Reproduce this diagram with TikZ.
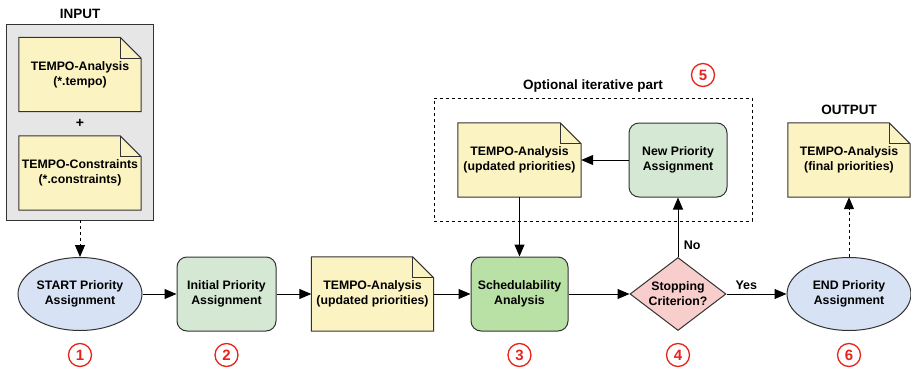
\documentclass[tikz,border=0pt]{standalone}
\usepackage{fontspec}
\setmainfont{Liberation Sans}
\usetikzlibrary{arrows.meta,shapes.geometric,backgrounds}
\definecolor{docyellow}{HTML}{FCF3C2}
\definecolor{lightgreen}{HTML}{D5E8D4}
\definecolor{darkgreen}{HTML}{B9E0A5}
\definecolor{lightblue}{HTML}{D7E3F5}
\definecolor{lightred}{HTML}{F8CECC}
\definecolor{boxgray}{HTML}{E6E6E6}
\definecolor{numred}{HTML}{E8231B}
\definecolor{linegray}{HTML}{333333}
\newcommand\docshape[1]{%
  \begin{pgfonlayer}{background}
  \filldraw[fill=docyellow,draw=linegray,line width=1pt]
    (#1.north west) -- ([xshift=-21pt]#1.north east) -- ([yshift=-21pt]#1.north east)
    -- (#1.south east) -- (#1.south west) -- cycle;
  \draw[linegray,line width=1pt] ([xshift=-21pt]#1.north east) |- ([yshift=-21pt]#1.north east);
  \end{pgfonlayer}}
\tikzset{
  base/.style={align=center,inner sep=0pt,text=black},
  doc/.style={base,rectangle,minimum width=122pt,minimum height=74pt},
  procbox/.style={base,rectangle,rounded corners=10pt,draw=linegray,line width=1pt,
    minimum width=99pt,minimum height=74pt},
  oval/.style={base,ellipse,draw=linegray,line width=1pt,fill=lightblue,
    minimum width=124pt,minimum height=73pt},
  decide/.style={base,diamond,aspect=1.3,draw=linegray,line width=1pt,fill=lightred,
    minimum width=96pt,minimum height=73pt},
  title/.style={font=\bfseries\fontsize{13.5}{15}\selectfont},
  num/.style={circle,draw=numred,line width=1.3pt,text=numred,minimum size=23pt,inner sep=0pt,
    font=\bfseries\fontsize{15}{16}\selectfont},
  arr/.style={-{Triangle[length=12pt,width=10pt]},line width=1pt,draw=black},
  darr/.style={arr,dash pattern=on 3pt off 3pt},
  lbl/.style={font=\bfseries\fontsize{12.5}{14}\selectfont},
}
\begin{document}
\begin{tikzpicture}[x=1pt,y=-1pt,font=\bfseries\fontsize{12.3}{15}\selectfont]
\useasboundingbox (0,0) rectangle (911,370);
% INPUT group
\node[title] (inlbl) at (80,14) {INPUT};
\node[minimum width=146pt,minimum height=195pt,inner sep=0pt] (inbox) at (80,122.5) {};
\begin{pgfonlayer}{background}
\filldraw[fill=boxgray,draw=linegray,line width=1pt] (inbox.north west) rectangle (inbox.south east);
\end{pgfonlayer}
\node[doc] (docA) at (80,74.5) {TEMPO-Analysis\\(*.tempo)};
\docshape{docA}
\node[font=\bfseries\fontsize{14}{15}\selectfont] (plus) at (80,123) {+};
\node[doc] (docB) at (80,173) {TEMPO-Constraints\\(*.constraints)};
\docshape{docB}
% main row
\node[oval] (start) at (80,294) {START Priority\\Assignment};
\node[procbox,fill=lightgreen] (init) at (226.5,294) {Initial Priority\\Assignment};
\node[doc] (docU) at (372.5,294) {TEMPO-Analysis\\(updated priorities)};
\docshape{docU}
\node[procbox,fill=darkgreen,minimum width=97pt] (sched) at (519.5,294) {Schedulability\\Analysis};
\node[decide] (stop) at (678,294) {Stopping\\Criterion?};
\node[oval] (endp) at (849,294) {END Priority\\Assignment};
% optional part
\node[minimum width=318pt,minimum height=123pt,inner sep=0pt,draw=black,line width=1pt,dash pattern=on 3pt off 3pt] (opt) at (593,159.5) {};
\node[title] (optlbl) at (593,86) {Optional iterative part};
\node[doc,minimum width=123pt] (docI) at (519.5,160) {TEMPO-Analysis\\(updated priorities)};
\docshape{docI}
\node[procbox,fill=lightgreen,minimum width=98pt] (newp) at (678,160) {New Priority\\Assignment};
% output
\node[title] (outlbl) at (849,110) {OUTPUT};
\node[doc] (docF) at (849,160) {TEMPO-Analysis\\(final priorities)};
\docshape{docF}
% numbers
\node[num] (n1) at (80,355) {1};
\node[num] (n2) at (226.5,355) {2};
\node[num] (n3) at (519.5,355) {3};
\node[num] (n4) at (678,355) {4};
\node[num] (n5) at (703,75) {5};
\node[num] (n6) at (849,355) {6};
% connectors
\draw[darr] (inbox.south) -- (start.north);
\draw[arr] (start.east) -- (init.west);
\draw[arr] (init.east) -- (docU.west);
\draw[arr] (docU.east) -- (sched.west);
\draw[arr] (sched.east) -- (stop.west);
\draw[arr] (stop.east) -- node[lbl,above,pos=0.33,yshift=1pt] {Yes} (endp.west);
\draw[arr] (stop.north) -- node[lbl,right,pos=0.2,xshift=2pt] {No} (newp.south);
\draw[arr] (newp.west) -- (docI.east);
\draw[arr] (docI.south) -- (sched.north);
\draw[darr] (endp.north) -- (docF.south);
\end{tikzpicture}
\end{document}
